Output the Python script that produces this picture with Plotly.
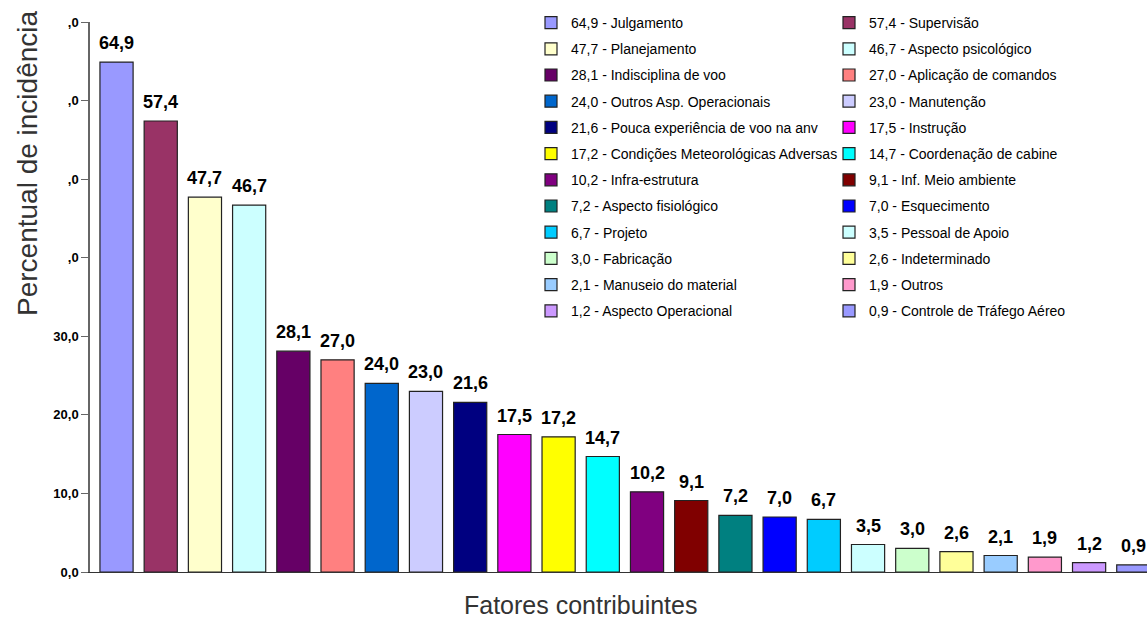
import plotly.graph_objects as go

categories = [
    "Julgamento", "Supervisão", "Planejamento", "Aspecto psicológico",
    "Indisciplina de voo", "Aplicação de comandos", "Outros Asp. Operacionais",
    "Manutenção", "Pouca experiência de voo na anv", "Instrução",
    "Condições Meteorológicas Adversas", "Coordenação de cabine",
    "Infra-estrutura", "Inf. Meio ambiente", "Aspecto fisiológico",
    "Esquecimento", "Projeto", "Pessoal de Apoio", "Fabricação",
    "Indeterminado", "Manuseio do material", "Outros", "Aspecto Operacional",
    "Controle de Tráfego Aéreo",
]
values = [64.9, 57.4, 47.7, 46.7, 28.1, 27.0, 24.0, 23.0, 21.6, 17.5, 17.2, 14.7,
          10.2, 9.1, 7.2, 7.0, 6.7, 3.5, 3.0, 2.6, 2.1, 1.9, 1.2, 0.9]
tick_vals = [0, 10, 20, 30, 40, 50, 60, 70]
tick_text = ["0,0", "10,0", "20,0", "30,0", ",0", ",0", ",0", ",0"]

colors = ["#9999FF", "#993366", "#FFFFCC", "#CCFFFF", "#660066", "#FF8080",
          "#0066CC", "#CCCCFF", "#000080", "#FF00FF", "#FFFF00", "#00FFFF",
          "#800080", "#800000", "#008080", "#0000FF", "#00CCFF", "#CCFFFF",
          "#CCFFCC", "#FFFF99", "#99CCFF", "#FF99CC", "#CC99FF", "#9999FF"]


def fmt(v):
    return f"{v:.1f}".replace(".", ",")


FONT = "Liberation Sans, Arial, sans-serif"
W, H = 1147, 619
ML, MR, MT, MB = 90, 0, 22, 47
PW = W - ML - MR
PH = H - MT - MB

fig = go.Figure()
for i, (cat, v, c) in enumerate(zip(categories, values, colors)):
    fig.add_trace(go.Bar(
        x=[i], y=[v], width=0.75,
        name=f"{fmt(v)} - {cat}",
        marker=dict(color=c, line=dict(color="#222222", width=1.2)),
        legend="legend" if i % 2 == 0 else "legend2",
        legendgroup=f"g{i}",
        hoverinfo="name",
    ))

annotations = []
for i, v in enumerate(values):
    annotations.append(dict(
        x=i, y=v, xref="x", yref="y", text=f"<b>{fmt(v)}</b>",
        showarrow=False, yanchor="bottom", xanchor="center", yshift=7,
        font=dict(family=FONT, size=18, color="#000000"),
    ))

annotations.append(dict(
    x=-63 / PW, y=(572 - 163) / PH, xref="paper", yref="paper",
    text="Percentual de incidência", textangle=-90, showarrow=False,
    xanchor="center", yanchor="middle",
    font=dict(family=FONT, size=28, color="#333333"),
))
annotations.append(dict(
    x=(580 - ML) / PW, y=(572 - 605) / PH, xref="paper", yref="paper",
    text="Fatores contribuintes", showarrow=False,
    xanchor="center", yanchor="middle",
    font=dict(family=FONT, size=25, color="#333333"),
))

legend_common = dict(
    orientation="v", traceorder="grouped", tracegroupgap=5,
    bgcolor="rgba(0,0,0,0)", borderwidth=0,
    font=dict(family=FONT, size=14, color="#000000"),
    xanchor="left", yanchor="top", itemwidth=30, maxheight=600,
)

fig.update_layout(
    width=W, height=H, autosize=False,
    margin=dict(l=ML, r=MR, t=MT, b=MB),
    paper_bgcolor="white", plot_bgcolor="white",
    barmode="overlay",
    showlegend=True,
    legend=dict(x=(531 - ML) / PW, y=1 + (MT - 7) / PH, **legend_common),
    legend2=dict(x=(829 - ML) / PW, y=1 + (MT - 7) / PH, **legend_common),
    xaxis=dict(range=[-0.6, 23.31], showticklabels=False, ticks="",
               showgrid=False, zeroline=False, showline=True,
               linecolor="#333333", linewidth=1),
    yaxis=dict(range=[0, 70], tickvals=tick_vals, ticktext=tick_text,
               ticks="outside", ticklen=7, tickcolor="#666666",
               showgrid=False, zeroline=False, showline=True,
               linecolor="#666666", linewidth=1.5,
               tickfont=dict(family=FONT, size=13, color="#000000", weight="bold")),
    annotations=annotations,
    font=dict(family=FONT),
)

fig.write_html("out.html")
